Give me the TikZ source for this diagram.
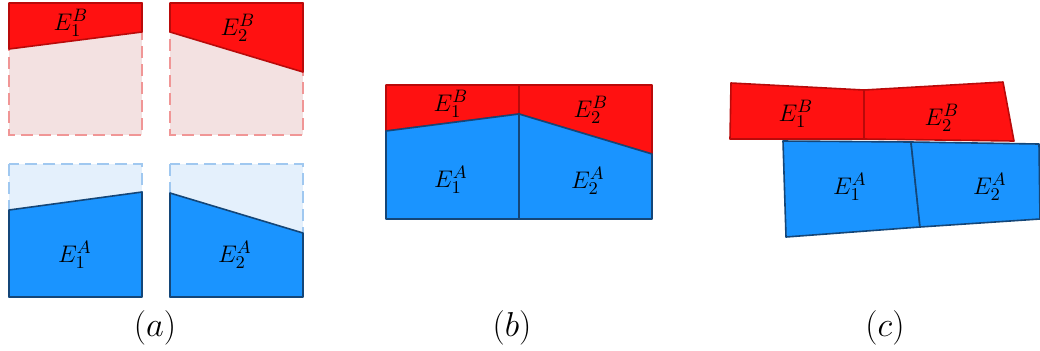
\documentclass[tikz,border=0pt]{standalone}
\usepackage{amsmath}
\definecolor{rojo}{RGB}{255,17,17}
\definecolor{rojoborde}{RGB}{185,10,10}
\definecolor{rojoclaro}{RGB}{243,225,225}
\definecolor{rojodash}{RGB}{240,150,150}
\definecolor{azul}{RGB}{26,148,255}
\definecolor{azulborde}{RGB}{20,70,120}
\definecolor{azulclaro}{RGB}{228,240,252}
\definecolor{azuldash}{RGB}{160,200,240}

\begin{document}
\begin{tikzpicture}[x=0.5pt, y=-0.5pt,
    capab/.style={fill=rojo, draw=rojoborde, line width=0.8pt, line join=round},
    capaa/.style={fill=azul, draw=azulborde, line width=0.8pt, line join=round},
    fantb/.style={fill=rojoclaro, draw=rojodash, dash pattern=on 6pt off 3pt, line width=0.8pt},
    fanta/.style={fill=azulclaro, draw=azuldash, dash pattern=on 6pt off 3pt, line width=0.8pt},
    etiqueta/.style={font=\fontsize{13}{15}\selectfont, inner sep=0pt},
    pie/.style={font=\fontsize{17}{20}\selectfont, inner sep=0pt}]
  \useasboundingbox (0,0) rectangle (1040,350);
  % (a) capas separadas
  \draw[fantb] (9,3) rectangle (142,135);
  \draw[fantb] (170,3) rectangle (303,135);
  \draw[fanta] (9,164) rectangle (142,297);
  \draw[fanta] (170,164) rectangle (303,297);
  \draw[capab] (9,3) -- (142,3) -- (142,32) -- (9,49) -- cycle;
  \draw[capab] (170,3) -- (303,3) -- (303,72) -- (170,32) -- cycle;
  \draw[capaa] (9,210) -- (142,192) -- (142,297) -- (9,297) -- cycle;
  \draw[capaa] (170,193) -- (303,233) -- (303,297) -- (170,297) -- cycle;
  \node[etiqueta] (a1b) at (71,23) {$E_1^B$};
  \node[etiqueta] (a2b) at (238,28) {$E_2^B$};
  \node[etiqueta] (a1a) at (75,255) {$E_1^A$};
  \node[etiqueta] (a2a) at (235,255) {$E_2^A$};
  \node[pie] (pa) at (155,328) {$(a)$};
  % (b) capas unidas
  \draw[capab] (386,85) -- (519,85) -- (519,114) -- (386,131) -- cycle;
  \draw[capab] (519,85) -- (652,85) -- (652,154) -- (519,114) -- cycle;
  \draw[capaa] (386,131) -- (519,114) -- (519,219) -- (386,219) -- cycle;
  \draw[capaa] (519,114) -- (652,154) -- (652,219) -- (519,219) -- cycle;
  \node[etiqueta] (b1b) at (451,104) {$E_1^B$};
  \node[etiqueta] (b2b) at (591,110) {$E_2^B$};
  \node[etiqueta] (b1a) at (451,180) {$E_1^A$};
  \node[etiqueta] (b2a) at (588,181) {$E_2^A$};
  \node[pie] (pb) at (512,328) {$(b)$};
  % (c) capas deformadas
  \draw[capab] (731,83) -- (864,90) -- (864,139) -- (730,139) -- cycle;
  \draw[capab] (864,90) -- (1003,82) -- (1014,141) -- (864,139) -- cycle;
  \draw[capaa] (783,141) -- (911,142) -- (920,227) -- (786,237) -- cycle;
  \draw[capaa] (911,142) -- (1039,144) -- (1040,219) -- (920,227) -- cycle;
  \node[etiqueta] (c1b) at (796,114) {$E_1^B$};
  \node[etiqueta] (c2b) at (942,118) {$E_2^B$};
  \node[etiqueta] (c1a) at (850,187) {$E_1^A$};
  \node[etiqueta] (c2a) at (990,187) {$E_2^A$};
  \node[pie] (pc) at (885,328) {$(c)$};
\end{tikzpicture}
\end{document}
